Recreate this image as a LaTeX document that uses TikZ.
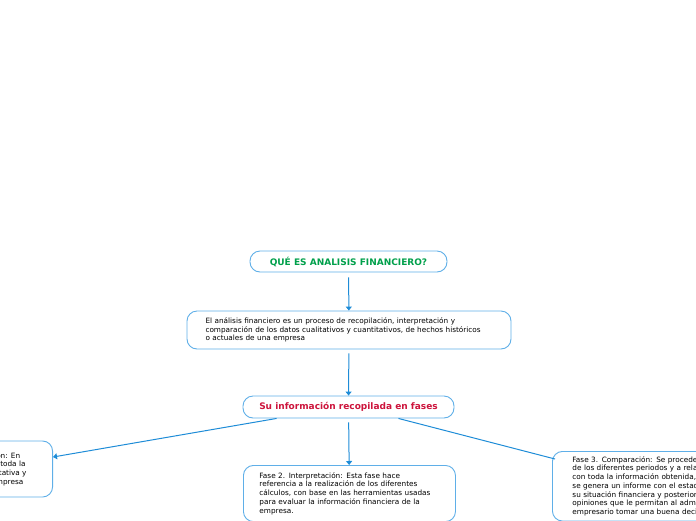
\documentclass[tikz,border=0pt]{standalone}
\usepackage{fontspec}
\setmainfont{DejaVu Sans}
\usetikzlibrary{arrows.meta}

\definecolor{mmline}{RGB}{95,175,232}
\definecolor{mmarrow}{RGB}{30,140,215}
\definecolor{mmgreen}{RGB}{0,160,75}
\definecolor{mmred}{RGB}{205,20,60}

\tikzset{
  box/.style={draw=mmline, line width=0.9pt, rounded corners=10pt, fill=white},
  txt/.style={font=\fontsize{7.3}{8.7}\selectfont, align=left},
  link/.style={draw=mmarrow, line width=1pt, -{Triangle[length=4pt,width=6pt]}},
  plainlink/.style={draw=mmarrow, line width=1pt}
}

\begin{document}
\begin{tikzpicture}[x=1pt,y=-1pt]
\useasboundingbox (0,0) rectangle (696,520);
\clip (0,0) rectangle (696,520);
% main branch
\node[box, minimum width=197pt, minimum height=21pt, font=\fontsize{9}{10}\selectfont\bfseries, text=mmgreen]
  (title) at (348.5,261.5) {QUÉ ES ANALISIS FINANCIERO?};
\node[box, txt, minimum height=38pt, text width=287pt, inner xsep=18.5pt]
  (desc) at (349,330) {El análisis financiero es un proceso de recopilación, interpretación y\\
  comparación de los datos cualitativos y cuantitativos, de hechos históricos\\
  o actuales de una empresa};
\node[box, minimum width=211pt, minimum height=22pt, font=\fontsize{9}{10}\selectfont\bfseries, text=mmred]
  (fases) at (348.5,407) {Su información recopilada en fases};
% the three phases
\node[box, txt, anchor=east, minimum height=56pt, inner xsep=26pt]
  (fase1) at (53,469) {Fase 1. Recopilación: En\\
  esta fase se reúne toda la\\
  información cuantitativa y\\
  cualitativa de la empresa};
\node[box, txt, anchor=north west, text width=180pt, inner xsep=16pt, inner ysep=7pt]
  (fase2) at (243,465) {Fase 2. Interpretación: Esta fase hace\\
  referencia a la realización de los diferentes\\
  cálculos, con base en las herramientas usadas\\
  para evaluar la información financiera de la\\
  empresa.};
\node[box, txt, anchor=north west, text width=220pt, inner xsep=20pt, inner ysep=5pt]
  (fase3) at (552,451) {Fase 3. Comparación: Se procede a comparar\\
  de los diferentes periodos y a relacionarlos\\
  con toda la información obtenida, luego\\
  se genera un informe con el estado de\\
  su situación financiera y posteriormente\\
  opiniones que le permitan al administrador o\\
  empresario tomar una buena decisión.};
% connectors
\draw[link, shorten <=5pt] (title) -- (desc);
\draw[link, shorten <=4pt] (desc) -- (fases);
\draw[link, shorten <=4pt] (fases) -- (fase2);
\draw[link] ([xshift=34pt]fases.south west) -- ([yshift=12pt]fase1.east);
\draw[plainlink] ([xshift=-56pt]fases.south east) -- ([xshift=3pt,yshift=-8pt]fase3.north west);
\end{tikzpicture}
\end{document}
